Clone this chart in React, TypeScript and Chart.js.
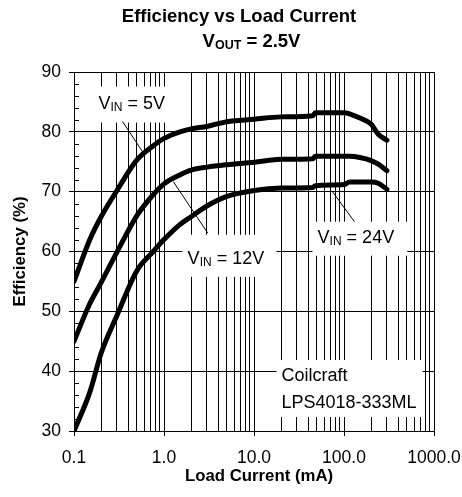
import React, { useEffect, useRef } from 'react';
import { Chart, registerables } from 'chart.js';

Chart.register(...registerables);

// ---------- data ----------
const loadCurrent = [0.1, 0.15, 0.2, 0.3, 0.5, 0.75, 1, 1.5, 2, 3, 5, 10, 20, 45, 48, 100, 115, 150, 200, 240, 300];
const eff5V = [55.0, 62.0, 65.8, 70.2, 75.3, 77.6, 78.9, 80.0, 80.5, 80.9, 81.7, 82.1, 82.5, 82.7, 83.2, 83.2, 83.0, 82.3, 81.3, 79.6, 78.6];
const eff12V = [45.0, 51.3, 54.8, 59.9, 66.0, 69.4, 71.3, 72.8, 73.6, 74.1, 74.5, 74.9, 75.4, 75.5, 75.9, 75.9, 75.9, 75.7, 75.2, 74.6, 73.5];
const eff24V = [30.0, 36.5, 43.0, 49.3, 56.8, 59.9, 62.0, 64.5, 65.8, 67.6, 69.2, 70.2, 70.6, 70.7, 71.0, 71.2, 71.6, 71.6, 71.6, 71.4, 70.4];

const xTickValues = [0.1, 1, 10, 100, 1000];
const xTickLabels = ['0.1', '1.0', '10.0', '100.0', '1000.0'];
const yTickValues = [30, 40, 50, 60, 70, 80, 90];

const titleLine1 = 'Efficiency vs Load Current';
const titleLine2 = { main: 'V', sub: 'OUT', rest: ' = 2.5V' };
const xAxisTitle = 'Load Current (mA)';
const yAxisTitle = 'Efficiency (%)';

// curve labels (positions in data space: load current, efficiency)
const curveLabels = [
  { main: 'V', sub: 'IN', rest: ' = 5V', text: [0.187, 83.84], box: [0.16, 87.57, 1.6, 81.55], leader: [0.346, 81.72, 0.577, 76.69] },
  { main: 'V', sub: 'IN', rest: ' = 12V', text: [1.83, 57.83], box: [1.6, 62.8, 17.8, 55.77], leader: [1.27, 71.67, 3.06, 63.09] },
  { main: 'V', sub: 'IN', rest: ' = 24V', text: [50.9, 61.4], box: [44.6, 64.98, 505, 59.29], leader: [74.5, 70.0, 130.7, 64.98] },
];
const noteLines = ['Coilcraft', 'LPS4018-333ML'];
const noteText = [[20.2, 38.28], [20.2, 33.82]];
const noteBox = [17.8, 41.88, 744.7, 32.34];

// ---------- helpers ----------
const FONT = '"Liberation Sans", Arial, Helvetica, sans-serif';

const xGridValues: number[] = (() => {
  const out: number[] = [];
  for (let d = 0; d < xTickValues.length - 1; d++) {
    for (let m = 1; m <= 9; m++) out.push(Number((m * xTickValues[d]).toPrecision(6)));
  }
  out.push(xTickValues[xTickValues.length - 1]);
  return out;
})();

const yMinorValues: number[] = (() => {
  const out: number[] = [];
  for (let v = yTickValues[0]; v <= yTickValues[yTickValues.length - 1]; v += 2) {
    if (v % 10 !== 0) out.push(v);
  }
  return out;
})();

const decadeIndex = (v: number) => xTickValues.findIndex((t) => Math.abs(t - v) / t < 1e-6);

function drawRich(ctx: CanvasRenderingContext2D, x: number, y: number, main: string, sub: string, rest: string, size: number, subSize: number, bold: boolean) {
  const w = bold ? 'bold ' : '';
  ctx.textAlign = 'left';
  ctx.textBaseline = 'alphabetic';
  ctx.font = `${w}${size}px ${FONT}`;
  ctx.fillText(main, x, y);
  let cx = x + ctx.measureText(main).width;
  ctx.font = `${w}${subSize}px ${FONT}`;
  ctx.fillText(sub, cx, y + 2);
  cx += ctx.measureText(sub).width;
  ctx.font = `${w}${size}px ${FONT}`;
  ctx.fillText(rest, cx, y);
  return cx + ctx.measureText(rest).width - x;
}

function richWidth(ctx: CanvasRenderingContext2D, main: string, sub: string, rest: string, size: number, subSize: number, bold: boolean) {
  const w = bold ? 'bold ' : '';
  ctx.font = `${w}${size}px ${FONT}`;
  let t = ctx.measureText(main).width + ctx.measureText(rest).width;
  ctx.font = `${w}${subSize}px ${FONT}`;
  t += ctx.measureText(sub).width;
  return t;
}

const overlayPlugin = {
  id: 'overlay',
  beforeDatasetsDraw(chart: any) {
    const ctx: CanvasRenderingContext2D = chart.ctx;
    const xs = chart.scales.x;
    const ys = chart.scales.y;
    const area = chart.chartArea;
    ctx.save();
    // minor y ticks (inside)
    ctx.strokeStyle = '#000';
    ctx.lineWidth = 1;
    ctx.beginPath();
    yMinorValues.forEach((v) => {
      const py = Math.round(ys.getPixelForValue(v)) + 0.5;
      ctx.moveTo(area.left, py);
      ctx.lineTo(area.left + 5, py);
    });
    ctx.stroke();

    // white boxes
    ctx.fillStyle = '#fff';
    const fillBox = (b: number[]) => {
      const x1 = xs.getPixelForValue(b[0]);
      const y1 = ys.getPixelForValue(b[1]);
      const x2 = xs.getPixelForValue(b[2]);
      const y2 = ys.getPixelForValue(b[3]);
      ctx.fillRect(x1, y1, x2 - x1, y2 - y1);
    };
    curveLabels.forEach((l) => fillBox(l.box));
    fillBox(noteBox);

    // labels
    ctx.fillStyle = '#000';
    curveLabels.forEach((l) => {
      drawRich(ctx, xs.getPixelForValue(l.text[0]), ys.getPixelForValue(l.text[1]), l.main, l.sub, l.rest, 18, 12, false);
      ctx.beginPath();
      ctx.moveTo(xs.getPixelForValue(l.leader[0]), ys.getPixelForValue(l.leader[1]));
      ctx.lineTo(xs.getPixelForValue(l.leader[2]), ys.getPixelForValue(l.leader[3]));
      ctx.stroke();
    });
    ctx.font = `18px ${FONT}`;
    ctx.textAlign = 'left';
    ctx.textBaseline = 'alphabetic';
    noteLines.forEach((t, i) => {
      ctx.fillText(t, xs.getPixelForValue(noteText[i][0]), ys.getPixelForValue(noteText[i][1]));
    });
    ctx.restore();
  },
  afterDraw(chart: any) {
    const ctx: CanvasRenderingContext2D = chart.ctx;
    const area = chart.chartArea;
    ctx.save();
    ctx.fillStyle = '#000';
    // chart title
    ctx.font = `bold 18.5px ${FONT}`;
    ctx.textAlign = 'center';
    ctx.textBaseline = 'alphabetic';
    ctx.fillText(titleLine1, 239, 21.7);
    const w2 = richWidth(ctx, titleLine2.main, titleLine2.sub, titleLine2.rest, 18.5, 12.5, true);
    drawRich(ctx, 251.5 - w2 / 2, 46.7, titleLine2.main, titleLine2.sub, titleLine2.rest, 18.5, 12.5, true);
    // axis titles
    ctx.font = `bold 16.8px ${FONT}`;
    ctx.textAlign = 'center';
    ctx.textBaseline = 'middle';
    ctx.fillText(xAxisTitle, (area.left + area.right) / 2 + 5, 476);
    ctx.translate(20, (area.top + area.bottom) / 2);
    ctx.rotate(-Math.PI / 2);
    ctx.fillText(yAxisTitle, 0, 0);
    ctx.restore();
  },
};

export default function App() {
  const ref = useRef<HTMLCanvasElement | null>(null);
  useEffect(() => {
    if (!ref.current) return;
    const mk = (vals: number[]) => loadCurrent.map((x, i) => ({ x, y: vals[i] }));
    const ds = (label: string, vals: number[]) => ({
      label,
      data: mk(vals),
      borderColor: '#000',
      backgroundColor: '#000',
      borderWidth: 5,
      pointRadius: 0,
      fill: false,
      cubicInterpolationMode: 'monotone' as const,
      borderCapStyle: 'round' as const,
      borderJoinStyle: 'round' as const,
    });
    const chart = new Chart(ref.current, {
      type: 'line',
      data: {
        datasets: [ds('VIN = 5V', eff5V), ds('VIN = 12V', eff12V), ds('VIN = 24V', eff24V)],
      },
      options: {
        animation: false,
        responsive: false,
        devicePixelRatio: 1,
        layout: { padding: { left: 0, top: 72, right: 28, bottom: 0 } },
        plugins: {
          legend: { display: false },
          tooltip: { enabled: false },
          title: { display: false },
        },
        scales: {
          x: {
            type: 'logarithmic',
            min: 0.1,
            max: 1000,
            afterFit: (s: any) => { s.height = 66; s.paddingLeft = 0; s.paddingRight = 0; },
            afterBuildTicks: (s: any) => { s.ticks = xGridValues.map((v) => ({ value: v })); },
            ticks: {
              autoSkip: false,
              maxRotation: 0,
              minRotation: 0,
              padding: 12,
              color: '#000',
              font: { family: FONT, size: 17.5 },
              callback: (v: any) => {
                const i = decadeIndex(Number(v));
                return i >= 0 ? xTickLabels[i] : '';
              },
            },
            grid: {
              color: '#000',
              lineWidth: 1,
              tickLength: 5,
              tickColor: (c: any) => (c.tick && decadeIndex(c.tick.value) >= 0 ? '#000' : 'rgba(0,0,0,0)'),
            },
            border: { color: '#000', width: 1 },
          },
          y: {
            type: 'linear',
            min: 30,
            max: 90,
            afterFit: (s: any) => { s.width = 74; s.paddingTop = 0; s.paddingBottom = 0; },
            afterBuildTicks: (s: any) => { s.ticks = yTickValues.map((v) => ({ value: v })); },
            ticks: {
              padding: 8,
              color: '#000',
              font: { family: FONT, size: 17.5 },
              callback: (v: any) => String(v),
            },
            grid: { color: '#000', lineWidth: 1, tickLength: 5, tickColor: '#000' },
            border: { color: '#000', width: 1 },
          },
        },
      } as any,
      plugins: [overlayPlugin],
    });
    return () => chart.destroy();
  }, []);
  return (
    <div style={{ position: 'fixed', left: 0, top: 0, width: 462, height: 497, background: '#fff' }}>
      <canvas ref={ref} width={462} height={497} style={{ display: 'block', width: 462, height: 497 }} />
    </div>
  );
}
